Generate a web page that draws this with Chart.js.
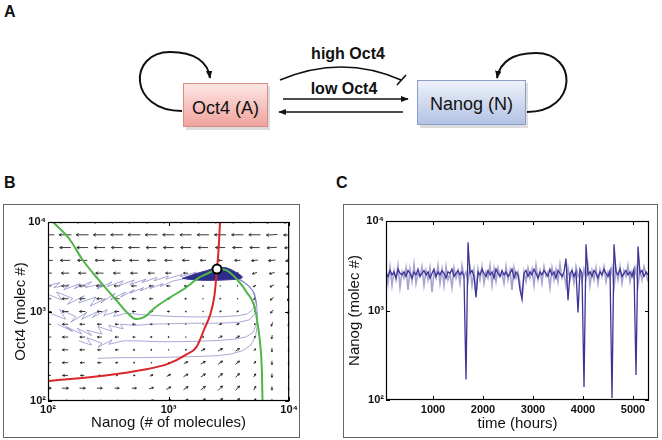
<!DOCTYPE html>
<html><head><meta charset="utf-8">
<script src="https://cdn.jsdelivr.net/npm/chart.js@4.4.1/dist/chart.umd.min.js"></script>
<style>
html,body{margin:0;padding:0;background:#fff;}
#wrap{position:relative;width:662px;height:440px;overflow:hidden;font-family:"Liberation Sans",Arial,sans-serif;}
.plab{position:absolute;font:bold 16px "Liberation Sans",Arial,sans-serif;color:#111;line-height:16px;}
.frame{position:absolute;border:1px solid #666;box-sizing:border-box;}
canvas{position:absolute;}
svg{position:absolute;left:0;top:0;}
</style></head>
<body><div id="wrap">
<svg width="662" height="150" xmlns="http://www.w3.org/2000/svg" font-family="Liberation Sans, Arial, sans-serif">
<defs>
 <linearGradient id="gA" x1="0" y1="0" x2="0" y2="1"><stop offset="0" stop-color="#fde7e5"/><stop offset="1" stop-color="#f0a29c"/></linearGradient>
 <linearGradient id="gN" x1="0" y1="0" x2="0" y2="1"><stop offset="0" stop-color="#eef2fa"/><stop offset="1" stop-color="#b2c2e3"/></linearGradient>
 <marker id="ah" viewBox="0 0 10 10" refX="9" refY="5" markerUnits="userSpaceOnUse" markerWidth="8" markerHeight="8" orient="auto"><path d="M0,1 L10,5 L0,9 z" fill="#111"/></marker>
</defs>
<rect x="186" y="86" width="84" height="44" fill="#bbb" opacity="0.5"/>
<rect x="183.5" y="83.5" width="84" height="43" fill="url(#gA)" stroke="#d98c86"/>
<rect x="420" y="83" width="108" height="45" fill="#bbb" opacity="0.5"/>
<rect x="417.5" y="80.5" width="108" height="44" fill="url(#gN)" stroke="#8c9cc6"/>
<text x="225.5" y="114" text-anchor="middle" font-size="18" fill="#111">Oct4 (A)</text>
<text x="471.5" y="110" text-anchor="middle" font-size="18" fill="#111">Nanog (N)</text>
<text x="348" y="59" text-anchor="middle" font-size="16" font-weight="bold" fill="#111">high Oct4</text>
<text x="344" y="94" text-anchor="middle" font-size="16" font-weight="bold" fill="#111">low Oct4</text>
<path d="M280,80 Q342,54 401,80" fill="none" stroke="#111" stroke-width="1.6"/>
<line x1="397" y1="85" x2="406" y2="75" stroke="#111" stroke-width="1.6"/>
<line x1="283" y1="99" x2="408" y2="99" stroke="#111" stroke-width="1.5" marker-end="url(#ah)"/>
<line x1="403" y1="112" x2="279" y2="112" stroke="#111" stroke-width="1.5" marker-end="url(#ah)"/>
<path d="M182,111 C128,111 128,52 170,52 C195,52 208,62 210,78" fill="none" stroke="#111" stroke-width="2" marker-end="url(#ah)"/>
<path d="M527,112 C578,112 578,53 536,53 C513,53 500,62 497,78" fill="none" stroke="#111" stroke-width="2" marker-end="url(#ah)"/>
</svg>
<div class="plab" style="left:4px;top:4px">A</div>
<div class="plab" style="left:4px;top:175px">B</div>
<div class="plab" style="left:336px;top:175px">C</div>
<div class="frame" style="left:3px;top:204px;width:297px;height:234px"></div>
<div class="frame" style="left:343px;top:204px;width:315px;height:234px"></div>
<canvas id="cB" width="300" height="234" style="left:0;top:204px"></canvas>
<canvas id="cC" width="315" height="234" style="left:343px;top:204px"></canvas>
</div>
<script>
// ---------- tick labels ----------
const powerTicks = [100, 1000, 10000];
const timeTicks = [1000, 2000, 3000, 4000, 5000];
const supDigits = {2: '\u00b2', 3: '\u00b3', 4: '\u2074'};

// ---------- Panel B: vector field grid ----------
const quiverN = [100,139,193,268,373,518,720,1000,1389,1931,2683,3728,5179,7197,10000];
const quiverA = [10000,7197,5179,3728,2683,1931,1389,1000,720,518,373,268,193,139,100];
const quiverU = [
 [-1,-1,-1,-1,-1,-1,-1,-1,-1,-1,-1,-1,-0.95,-0.95,-0.9],
 [-0.95,-0.95,-0.95,-0.95,-0.95,-0.95,-0.95,-0.9,-0.9,-0.9,-0.9,-0.9,-0.9,-0.85,-0.85],
 [-0.85,-0.85,-0.85,-0.85,-0.85,-0.85,-0.8,-0.8,-0.8,-0.75,-0.75,-0.75,-0.75,-0.75,-0.7],
 [-0.75,-0.75,-0.75,-0.7,-0.7,-0.7,-0.65,-0.6,-0.55,-0.45,-0.35,-0.45,-0.5,-0.55,-0.55],
 [-0.6,-0.6,-0.6,-0.6,-0.55,-0.55,-0.5,-0.45,-0.35,-0.2,-0.05,-0.2,-0.35,-0.4,-0.45],
 [-0.55,-0.55,-0.5,-0.5,-0.45,-0.4,-0.35,-0.3,-0.2,-0.1,0.05,-0.05,-0.2,-0.3,-0.35],
 [-0.5,-0.5,-0.45,-0.45,-0.4,-0.35,-0.3,-0.25,-0.15,-0.05,0.1,0.05,-0.15,-0.25,-0.3],
 [-0.55,-0.5,-0.45,-0.4,-0.35,-0.3,-0.25,-0.2,-0.1,-0.05,0.15,0.15,-0.05,-0.2,-0.2],
 [-0.5,-0.45,-0.4,-0.35,-0.3,-0.25,-0.2,-0.1,-0.05,-0.02,0.25,0.25,0.1,-0.1,-0.15],
 [-0.5,-0.45,-0.4,-0.35,-0.3,-0.2,-0.15,-0.1,-0.05,0.05,0.3,0.3,0.15,-0.05,-0.1],
 [-0.5,-0.45,-0.4,-0.3,-0.25,-0.15,-0.1,-0.05,0.05,0.3,0.35,0.3,0.15,0,-0.05],
 [-0.5,-0.45,-0.35,-0.3,-0.2,-0.1,-0.05,0.02,0.3,0.35,0.35,0.3,0.15,0,-0.05],
 [-0.45,-0.4,-0.3,-0.15,0.1,0.15,0.25,0.3,0.35,0.35,0.35,0.3,0.15,0,0],
 [0.5,0.5,0.45,0.4,0.35,0.35,0.35,0.35,0.35,0.35,0.35,0.3,0.15,0,0],
 [0.55,0.5,0.45,0.4,0.35,0.35,0.35,0.35,0.35,0.35,0.35,0.3,0.15,0,0]
];
const quiverV = [
 [0,0,0,0,0,0,0,0,0,0,0,0,0,-0.05,-0.05],
 [0,0,0,0,0,0,0,0,0,0,0,0,0,-0.05,-0.05],
 [0,0,0,0,0,0,0,0,0,0,0,0,0,-0.05,-0.05],
 [0,0,0,0,0,0,0,0,0,0,0,0,-0.05,-0.05,-0.1],
 [0,0,0,0,0,0,0,0,0,0,0,-0.05,-0.1,-0.1,-0.15],
 [0,0,0,0,0,0,0,0,0,0,0,-0.05,-0.1,-0.15,-0.2],
 [0,0,0,0,0,0,0,0,0,0.05,0.05,0,-0.1,-0.2,-0.25],
 [0,0,0,0,0,0,0,0,0,0.05,0.05,0.05,0,-0.25,-0.3],
 [0,0,0,0,0,0,0,0,0,0.05,0.1,0.1,0.05,-0.3,-0.3],
 [0,0,0,0,0,0,0,0,0.05,0.1,0.15,0.15,0.1,-0.3,-0.3],
 [0,0,0,0,0,0,0,0.05,0.1,0.15,0.2,0.2,0.15,-0.3,-0.35],
 [0,0,0,0,0,0,0,0.1,0.15,0.2,0.25,0.25,0.2,-0.3,-0.35],
 [0,0,0,0,0,0,0.1,0.15,0.2,0.25,0.3,0.3,0.25,-0.3,-0.35],
 [0,0,0,0,0,0,0.1,0.2,0.25,0.3,0.35,0.35,0.3,-0.3,-0.35],
 [0,0,0,0,0,0,0.15,0.2,0.3,0.35,0.4,0.4,0.35,-0.3,-0.35]
];

// ---------- Panel B: nullclines, fixed point, trajectories [Nanog, Oct4] ----------
const redNullcline = [[100,167],[300,193],[600,222],[1000,262],[1400,330],[1700,400],[2000,660],[2200,900],[2400,1500],[2520,2980],[2600,5000],[2670,10000]];
const greenNullcline = [[110,10000],[150,6500],[194,3760],[260,2300],[368,1343],[450,980],[537,824],[620,860],[784,1123],[1000,1400],[1378,1832],[1800,2400],[2240,2762],[2600,2980],[3000,2900],[3730,2249],[4500,1600],[5170,1123],[5500,700],[5780,401],[5950,200],[6010,100]];
const fixedPoint = [[2520,2980]];
const fixedBlob = [[1300,2350],[1700,2650],[2100,2880],[2500,3080],[3000,3080],[3500,2820],[4100,2420],[3700,2300],[3100,2260],[2500,2230],[1900,2230],[1500,2280],[1300,2350]];
const traj1 = [[100,1950],[125,2100],[112,1850],[150,2000],[135,1750],[185,2050],[165,1800],[230,2150],[205,1850],[280,2050],[255,1780],[340,2150],[310,1900],[420,2200],[390,1950],[520,2250],[480,2000],[650,2300],[600,2100],[800,2400],[760,2200],[1000,2500],[950,2300],[1300,2600],[1250,2450],[1700,2750],[1600,2600],[2100,2850],[2520,2980]];
const traj2 = [[100,1550],[130,1350],[118,1650],[160,1400],[145,1200],[200,1500],[180,1250],[250,1450],[225,1150],[300,1400],[275,1250],[360,1600],[330,1350],[440,1650],[400,1450],[520,1750],[480,1600],[620,1850],[580,1700],[750,1950],[700,1800],[900,2050],[850,1900],[1100,2200],[1400,2350],[1800,2550],[2200,2750],[2520,2980]];
const traj3 = [[105,950],[140,820],[125,1050],[170,880],[155,760],[210,980],[190,820],[260,1000],[235,860],[310,1050],[290,900],[370,1000],[350,880],[450,960],[600,920],[800,900],[1100,880],[1600,870],[2200,870],[3000,880],[3800,900],[4500,940],[5000,1050],[5250,1300],[5100,1650],[4600,1950],[3900,2250],[3200,2550],[2700,2850]];
const traj4 = [[120,720],[160,600],[140,680],[190,560],[175,650],[230,540],[210,620],[280,560],[260,680],[340,600],[320,700],[420,640],[400,720],[520,700],[700,720],[1000,730],[1500,740],[2200,740],[3000,745],[3900,760],[4700,810],[5200,950],[5350,1200],[5200,1550],[4700,1900],[4000,2250],[3200,2600],[2700,2880]];
const traj5 = [[180,470],[230,420],[210,510],[280,440],[260,400],[340,480],[320,430],[420,470],[560,470],[800,460],[1200,460],[1800,465],[2600,475],[3500,490],[4400,520],[5000,580],[5350,720],[5450,950],[5350,1300],[5000,1700],[4300,2100],[3500,2480],[2800,2850]];
const traj6 = [[260,300],[400,305],[600,305],[900,308],[1300,310],[1800,315],[2500,320],[3300,335],[4100,365],[4800,420],[5250,520],[5450,700]];

// ---------- Panel C: Nanog time series ----------
const timeHours = [60,100,140,180,220,260,300,340,380,420,
460,500,540,580,620,660,700,740,780,820,
860,900,940,980,1020,1060,1100,1140,1180,1220,
1260,1300,1340,1380,1420,1460,1500,1540,1580,1620,
1660,1700,1740,1780,1820,1860,1900,1940,1980,2020,
2060,2100,2140,2180,2220,2260,2300,2340,2380,2420,
2460,2500,2540,2580,2620,2660,2700,2740,2780,2820,
2860,2900,2940,2980,3020,3060,3100,3140,3180,3220,
3260,3300,3340,3380,3420,3460,3500,3540,3580,3620,
3660,3700,3740,3780,3820,3860,3900,3940,3980,4020,
4060,4100,4140,4180,4220,4260,4300,4340,4380,4420,
4460,4500,4540,4580,4620,4660,4700,4740,4780,4820,
4860,4900,4940,4980,5020,5060,5100,5140,5180,5220,
5260,5300];
const nanogCore = [2600,2400,2800,2500,2700,2300,2900,2600,2500,2700,
2400,2800,2600,2300,2700,2500,2900,2400,2600,2800,
2500,2700,2300,2600,2900,2400,2700,2500,2800,2600,
2300,2700,2600,2900,2400,2600,2800,2500,2700,2400,
170,5800,2600,2800,2400,1400,2700,2500,2900,2600,
2400,2800,2500,2700,2300,2900,2600,2400,2800,2500,
2700,2400,2600,2900,2300,2700,2500,1700,1350,2600,
2800,2400,2700,2500,2900,2600,2300,2700,2500,2800,
2600,2400,2900,2500,2700,2300,2800,2600,2400,2700,
3800,1300,2600,2800,2400,2700,950,2900,2600,140,
5500,2500,2700,2400,2800,2600,2300,2700,2500,2900,
2600,2400,2800,105,5500,2700,2500,2900,2400,2600,
2800,2500,2700,2400,2900,190,5200,2600,2800,2400,
2700,2500];
const nanogSpread = [2900,2000,3100,1900,2800,2200,3200,1800,2700,2300,
3000,1700,2900,2100,3300,2000,2600,2400,3100,1900,
2800,2200,3000,1600,2700,2300,3200,2000,2900,1900,
3100,2200,2600,1800,3000,2300,2800,2000,3200,2400,
2700,2100,3000,1900,2800,1500,2900,2200,3100,2000,
2700,2300,3200,1900,2900,2100,3000,2400,2600,2000,
3100,2200,2800,1700,3000,2300,2700,2000,1400,2700,
2100,3000,2300,2900,1900,3200,2200,2800,2000,3100,
2400,2700,1800,3000,2200,2900,2100,3300,2300,2600,
1900,3000,2200,2800,2000,3100,2400,2700,2100,2900,
2300,3200,1900,2800,2200,3000,2000,2900,2400,3100,
2100,2700,2300,3000,1800,2900,2200,3100,2000,2800,
2400,3200,2100,2700,2300,3000,1900,2800,2200,3100,
2600,2100];

// ---------- helpers ----------
const powLabel = v => '10' + supDigits[Math.round(Math.log10(v))];
const toXY = arr => arr.map(p => ({x: p[0], y: p[1]}));
const quiverPts = [];
quiverA.forEach((a, r) => quiverN.forEach((n, c) => quiverPts.push({x: n, y: a, u: quiverU[r][c], v: quiverV[r][c]})));

Chart.defaults.font.family = '"Liberation Sans", Arial, sans-serif';
Chart.defaults.color = '#111';

const quiverPlugin = {
  id: 'quiver',
  beforeDatasetsDraw(chart) {
    const ctx = chart.ctx, a = chart.chartArea;
    chart.data.datasets.forEach((d, i) => {
      if (!d.quiver) return;
      const meta = chart.getDatasetMeta(i);
      ctx.save();
      ctx.beginPath(); ctx.rect(a.left, a.top, a.right - a.left, a.bottom - a.top); ctx.clip();
      ctx.strokeStyle = '#222'; ctx.fillStyle = '#222'; ctx.lineWidth = 0.9;
      meta.data.forEach((el, j) => {
        const raw = d.data[j], L = 13;
        const dx = raw.u * L, dy = -raw.v * L, len = Math.hypot(dx, dy);
        if (len < 1.2) { ctx.fillRect(el.x - 0.6, el.y - 0.6, 1.2, 1.2); return; }
        const x0 = el.x - dx / 2, y0 = el.y - dy / 2, x1 = el.x + dx / 2, y1 = el.y + dy / 2;
        ctx.beginPath(); ctx.moveTo(x0, y0); ctx.lineTo(x1, y1); ctx.stroke();
        const h = Math.min(2.8, 0.25 * len + 1), ang = Math.atan2(dy, dx);
        ctx.beginPath();
        ctx.moveTo(x1, y1); ctx.lineTo(x1 - h * Math.cos(ang - 0.5), y1 - h * Math.sin(ang - 0.5));
        ctx.moveTo(x1, y1); ctx.lineTo(x1 - h * Math.cos(ang + 0.5), y1 - h * Math.sin(ang + 0.5));
        ctx.stroke();
      });
      ctx.restore();
    });
  }
};

const framePlugin = {
  id: 'frameTicks',
  afterDatasetsDraw(chart) {
    const ctx = chart.ctx, a = chart.chartArea, xs = chart.scales.x, ys = chart.scales.y, tl = 4;
    ctx.save();
    ctx.strokeStyle = '#000'; ctx.lineWidth = 1.2;
    ctx.strokeRect(a.left + 0.5, a.top + 0.5, a.right - a.left - 1, a.bottom - a.top - 1);
    ctx.lineWidth = 1;
    ctx.beginPath();
    xs.ticks.forEach(t => {
      const p = Math.round(xs.getPixelForValue(t.value)) + 0.5;
      ctx.moveTo(p, a.bottom); ctx.lineTo(p, a.bottom - tl);
      ctx.moveTo(p, a.top); ctx.lineTo(p, a.top + tl);
    });
    ys.ticks.forEach(t => {
      const p = Math.round(ys.getPixelForValue(t.value)) + 0.5;
      ctx.moveTo(a.left, p); ctx.lineTo(a.left + tl, p);
      ctx.moveTo(a.right, p); ctx.lineTo(a.right - tl, p);
    });
    ctx.stroke();
    ctx.restore();
  }
};

const tickFont = {size: 11, weight: 'bold'};
const titleFont = {size: 15};

function logAxis(extra) {
  return Object.assign({
    type: 'logarithmic', min: 100, max: 10000,
    grid: {display: false, drawTicks: false}, border: {display: false},
    afterBuildTicks: s => { s.ticks = powerTicks.map(v => ({value: v})); },
    ticks: {callback: v => powLabel(v), font: tickFont, color: '#111', padding: 2, autoSkip: false, maxRotation: 0}
  }, extra);
}

const trajStyle = {borderColor: 'rgba(98,98,182,0.7)', borderWidth: 0.8, pointRadius: 0, tension: 0, fill: false};

new Chart(document.getElementById('cB'), {
  type: 'line',
  data: {datasets: [
    {data: toXY(fixedPoint), showLine: false, pointRadius: 4.5, pointBackgroundColor: '#fff', pointBorderColor: '#000', pointBorderWidth: 2},
    {data: toXY(greenNullcline), borderColor: '#4fb547', borderWidth: 2, pointRadius: 0, cubicInterpolationMode: 'monotone'},
    {data: toXY(redNullcline), borderColor: '#d8262b', borderWidth: 2, pointRadius: 0, cubicInterpolationMode: 'monotone'},
    {data: toXY(fixedBlob), fill: 'shape', backgroundColor: '#2e2c8a', borderColor: '#3b3994', borderWidth: 1, pointRadius: 0, tension: 0.3},
    Object.assign({data: toXY(traj1)}, trajStyle),
    Object.assign({data: toXY(traj2)}, trajStyle),
    Object.assign({data: toXY(traj3)}, trajStyle),
    Object.assign({data: toXY(traj4)}, trajStyle),
    Object.assign({data: toXY(traj5)}, trajStyle),
    Object.assign({data: toXY(traj6)}, trajStyle),
    {data: quiverPts, quiver: true, showLine: false, pointRadius: 0}
  ]},
  options: {
    responsive: false, animation: false, devicePixelRatio: 1,
    layout: {padding: {left: 0, right: 8, top: 18, bottom: 0}},
    plugins: {legend: {display: false}, tooltip: {enabled: false}},
    scales: {
      x: logAxis({
        afterFit: s => { s.height = 37; },
        title: {display: true, text: 'Nanog (# of molecules)', font: titleFont, color: '#111', padding: {top: 0, bottom: 6}}
      }),
      y: logAxis({
        afterFit: s => { s.width = 48; },
        title: {display: true, text: 'Oct4 (molec #)', font: titleFont, color: '#111', padding: {top: 12, bottom: 0}}
      })
    }
  },
  plugins: [quiverPlugin, framePlugin]
});

new Chart(document.getElementById('cC'), {
  type: 'line',
  data: {labels: timeHours, datasets: [
    {data: nanogCore, borderColor: '#3d3593', borderWidth: 1.3, pointRadius: 0, tension: 0},
    {data: nanogSpread, borderColor: '#a9a3d2', borderWidth: 1.6, pointRadius: 0, tension: 0}
  ]},
  options: {
    responsive: false, animation: false, devicePixelRatio: 1,
    layout: {padding: {left: 0, right: 9, top: 17, bottom: 0}},
    plugins: {legend: {display: false}, tooltip: {enabled: false}},
    scales: {
      x: {
        type: 'linear', min: 60, max: 5320,
        grid: {display: false, drawTicks: false}, border: {display: false},
        afterBuildTicks: s => { s.ticks = timeTicks.map(v => ({value: v})); },
        afterFit: s => { s.height = 38; },
        ticks: {callback: v => String(v), font: tickFont, color: '#111', padding: 3, autoSkip: false, maxRotation: 0},
        title: {display: true, text: 'time (hours)', font: titleFont, color: '#111', padding: {top: 0, bottom: 5}}
      },
      y: logAxis({
        afterFit: s => { s.width = 43; },
        title: {display: true, text: 'Nanog (molec #)', font: titleFont, color: '#111', padding: {top: 3, bottom: 0}}
      })
    }
  },
  plugins: [framePlugin]
});
</script>
</body></html>
